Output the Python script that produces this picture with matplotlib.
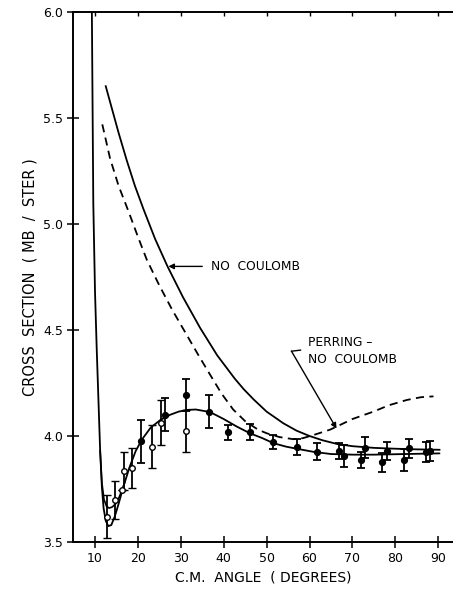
import matplotlib
matplotlib.use("Agg")
import matplotlib.pyplot as plt

# ---- data ----
# Fitted curve with Coulomb
fit_x = [9.25, 9.6, 10.0, 10.4, 10.8, 11.2, 11.6, 12.0, 12.5, 13.1, 13.8, 14.6, 15.5, 16.6,
         18.0, 19.5, 21.0, 23.0, 25.2, 27.5, 29.5, 31.4, 33.5, 36.8, 40.0, 43.0, 46.1,
         49.0, 51.6, 54.5, 57.0, 61.0, 65.0, 70.0, 75.0, 80.0, 85.0, 90.3]
fit_y = [6.05, 5.10, 4.68, 4.41, 4.17, 3.93, 3.76, 3.66, 3.60, 3.575, 3.58, 3.62, 3.68, 3.76,
         3.85, 3.93, 3.985, 4.04, 4.075, 4.10, 4.115, 4.123, 4.125, 4.113, 4.08, 4.045, 4.013,
         3.99, 3.966, 3.95, 3.94, 3.925, 3.915, 3.912, 3.912, 3.914, 3.916, 3.918]

# Second (inner) curve near the minimum
inner_x = [11.2, 11.6, 12.1, 12.7, 13.3, 14.0, 14.8, 15.6, 16.4, 16.9]
inner_y = [3.93, 3.78, 3.70, 3.668, 3.66, 3.665, 3.68, 3.71, 3.75, 3.78]

# No Coulomb curve
nc_x = [12.5, 14.0, 15.5, 17.4, 19.3, 21.3, 24.0, 26.9, 30.5, 34.5, 38.5, 42.6, 44.7, 47.0,
        50.0, 53.9, 57.0, 60.0, 63.0, 66.5, 70.0, 75.0, 80.0, 85.0, 90.3]
nc_y = [5.65, 5.54, 5.43, 5.30, 5.18, 5.07, 4.93, 4.80, 4.655, 4.51, 4.38, 4.27, 4.22, 4.172,
        4.115, 4.06, 4.025, 4.0, 3.98, 3.962, 3.952, 3.944, 3.94, 3.937, 3.935]

# Perring - No Coulomb (dashed)
pe_x = [11.7, 13.5, 15.5, 17.8, 20.0, 22.1, 25.0, 28.0, 31.0, 34.0, 36.8, 39.5, 42.2, 45.0,
        48.0, 50.0, 53.0, 56.2, 58.5, 61.0, 64.8, 66.3, 70.0, 74.9, 78.5, 82.7, 86.0, 88.9]
pe_y = [5.47, 5.31, 5.18, 5.06, 4.94, 4.83, 4.71, 4.595, 4.49, 4.385, 4.29, 4.20, 4.125, 4.07,
        4.03, 4.013, 3.995, 3.985, 3.99, 4.005, 4.03, 4.044, 4.08, 4.115, 4.145, 4.17, 4.183, 4.187]

# Data points: open circles
open_x = [12.8, 14.6, 16.4, 16.7, 18.6, 23.3, 25.4, 31.1]
open_y = [3.62, 3.70, 3.745, 3.836, 3.848, 3.95, 4.063, 4.025]
open_e = [0.10, 0.09, 0.0, 0.09, 0.095, 0.10, 0.105, 0.10]

# Data points: filled circles
fill_x = [20.7, 26.2, 31.1, 36.6, 41.1, 46.1, 51.6, 57.0, 61.8, 66.9, 68.1, 71.9, 72.9,
          77.0, 78.0, 82.1, 83.1, 87.2, 88.1]
fill_y = [3.975, 4.10, 4.193, 4.115, 4.017, 4.02, 3.97, 3.947, 3.926, 3.929, 3.906, 3.887,
          3.945, 3.876, 3.929, 3.887, 3.942, 3.926, 3.929]
fill_e = [0.10, 0.077, 0.075, 0.078, 0.035, 0.038, 0.033, 0.037, 0.04, 0.038, 0.05, 0.038,
          0.05, 0.045, 0.043, 0.05, 0.045, 0.048, 0.048]

x_ticks = [10, 20, 30, 40, 50, 60, 70, 80, 90]
y_ticks = [3.5, 4.0, 4.5, 5.0, 5.5, 6.0]

# ---- figure ----
plt.rcParams['font.family'] = ['DejaVu Sans']
fig = plt.figure(figsize=(4.53, 5.89), dpi=100)
ax = fig.add_axes([73/453, 1 - 542/589, 1 - 73/453, (542 - 12)/589])
ax.set_xlim(4.87, 93.45)
ax.set_ylim(3.5, 6.0)

k = 'black'
ax.plot(fit_x, fit_y, color=k, lw=1.3, solid_capstyle='round')
ax.plot(inner_x, inner_y, color=k, lw=1.2)
ax.plot(nc_x, nc_y, color=k, lw=1.3)
ax.plot(pe_x, pe_y, color=k, lw=1.3, ls=(0, (4.5, 3)))

ax.errorbar(fill_x, fill_y, yerr=fill_e, fmt='o', color=k, ms=4.2, mfc=k, mec=k,
            elinewidth=1.3, capsize=2.8, capthick=1.3, zorder=4)
ax.errorbar(open_x, open_y, yerr=open_e, fmt='o', color=k, ms=4.0, mfc='white', mec=k,
            mew=1.0, elinewidth=1.3, capsize=2.8, capthick=1.3, zorder=5)

# annotations
ax.annotate('', xy=(27.1, 4.80), xytext=(35.0, 4.80),
            arrowprops=dict(arrowstyle='-|>', color=k, lw=1.0, mutation_scale=8,
                            shrinkA=0, shrinkB=0))
ax.text(37.0, 4.80, 'NO  COULOMB', fontsize=8.8, va='center', ha='left')

ax.text(59.6, 4.44, 'PERRING \u2013', fontsize=8.8, va='center', ha='left')
ax.text(59.6, 4.36, 'NO  COULOMB', fontsize=8.8, va='center', ha='left')
ax.plot([57.9, 55.8], [4.405, 4.40], color=k, lw=1.0)
ax.annotate('', xy=(66.3, 4.035), xytext=(55.8, 4.40),
            arrowprops=dict(arrowstyle='-|>', color=k, lw=1.0, mutation_scale=8,
                            shrinkA=0, shrinkB=0))

# spines & ticks
ax.spines['right'].set_visible(False)
ax.spines['top'].set_visible(False)
for s in ['left', 'bottom']:
    ax.spines[s].set_linewidth(1.4)
ax.set_xticks(x_ticks)
ax.set_yticks(y_ticks)
ax.set_xticklabels([str(t) for t in x_ticks], fontsize=9)
ax.set_yticklabels(['%.1f' % t for t in y_ticks], fontsize=9)
ax.tick_params(axis='both', direction='inout', length=8, width=1.1, pad=3)

top = ax.secondary_xaxis('top')
top.set_xticks(x_ticks)
top.tick_params(direction='in', length=3, width=1.0, labeltop=False)
top.spines['top'].set_linewidth(1.4)

ax.set_xlabel('C.M.  ANGLE  ( DEGREES)', fontsize=10, labelpad=4)
ax.set_ylabel('CROSS  SECTION  ( MB  /  STER )', fontsize=10.5, labelpad=4)

fig.savefig('out.png', dpi=100)
